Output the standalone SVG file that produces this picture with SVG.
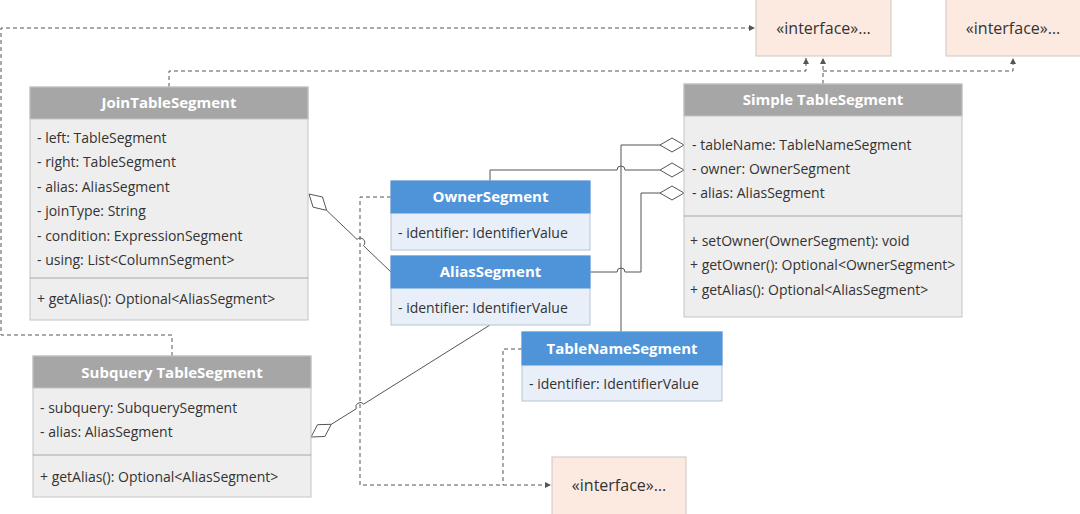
<svg xmlns="http://www.w3.org/2000/svg" width="1080" height="514" viewBox="0 0 1080 514">
<defs>
<style>
.gh{fill:#a6a6a6;stroke:#c4c4c4;stroke-width:1}
.gb{fill:#eeeeee;stroke:#c4c4c4;stroke-width:1}
.bh{fill:#4f94d9;stroke:#4f94d9;stroke-width:1}
.bb{fill:#e8eff9;stroke:#b8c4d4;stroke-width:1}
.if{fill:#fce9e0;stroke:#cfc6c1;stroke-width:1}
.dv{stroke:#a8a8a8;stroke-width:1}
.t{font-family:"Open Sans","Noto Sans",sans-serif;font-size:14px;fill:#333333}
.h{font-family:"Open Sans","Noto Sans",sans-serif;font-size:15px;font-weight:bold;fill:#ffffff;text-anchor:middle}
.it{font-family:"Open Sans","Noto Sans",sans-serif;font-size:16px;fill:#333333;text-anchor:middle}
.sl{fill:none;stroke:#555555;stroke-width:1}
.dl{fill:none;stroke:#555555;stroke-width:1;stroke-dasharray:4 3}
.dm{fill:#ffffff;stroke:#555555;stroke-width:1}
</style>
<marker id="ar" markerUnits="userSpaceOnUse" markerWidth="7" markerHeight="7" refX="6" refY="3" orient="auto">
<path d="M0,0 L6,3 L0,6 z" fill="#555555"/>
</marker>
</defs>

<g id="connectors">
<path class="dl" d="M172,356 V335 H1 V28 H755" marker-end="url(#ar)"/>
<path class="dl" d="M169,87 V71 H806 V58" marker-end="url(#ar)"/>
<path class="dl" d="M823,84 V58" marker-end="url(#ar)"/>
<path class="dl" d="M823,71 H1013 V58" marker-end="url(#ar)"/>
<path class="dl" d="M391,197 H360 V485 H551" marker-end="url(#ar)"/>
<path class="dl" d="M522,349 H503 V485"/>
<path class="sl" d="M621,333 V145 H660"/>
<path class="sl" d="M490,181 V170 H617 A4,4 0 0 1 625,170 H660"/>
<path class="sl" d="M590,272 H617 A4,4 0 0 1 625,272 H641 V193 H660"/>
<path class="sl" d="M326.6,210.3 L357,239.4 A4.5,4.5 0 0 1 363.5,245.7 L391,272"/>
<path class="sl" d="M331.3,424.3 L356.3,408.7 A4.4,4.4 0 0 1 363.7,404.1 L490,325"/>
<path class="dm" d="M684,145 L672,138 L660,145 L672,152 z"/>
<path class="dm" d="M684,170 L672,163 L660,170 L672,177 z"/>
<path class="dm" d="M684,193 L672,186 L660,193 L672,200 z"/>
<path class="dm" d="M309,194 L322.5,197 L326.6,210.3 L313.1,207.2 z"/>
<path class="dm" d="M311,437 L317.5,424.7 L331.3,424.3 L324.9,436.5 z"/>
</g>

<g id="JoinTableSegment">
<rect class="gb" x="30" y="87" width="278" height="233"/>
<rect class="gh" x="30" y="87" width="278" height="32"/>
<text class="h" x="169" y="108">JoinTableSegment</text>
<text class="t" x="37" y="143">- left: TableSegment</text>
<text class="t" x="37" y="167">- right: TableSegment</text>
<text class="t" x="37" y="192">- alias: AliasSegment</text>
<text class="t" x="37" y="216">- joinType: String</text>
<text class="t" x="37" y="241">- condition: ExpressionSegment</text>
<text class="t" x="37" y="265">- using: List&lt;ColumnSegment&gt;</text>
<line class="dv" x1="30" y1="278" x2="308" y2="278"/>
<text class="t" x="37" y="304">+ getAlias(): Optional&lt;AliasSegment&gt;</text>
</g>

<g id="SubqueryTableSegment">
<rect class="gb" x="33" y="356" width="278" height="141"/>
<rect class="gh" x="33" y="356" width="278" height="32"/>
<text class="h" x="172" y="378">Subquery TableSegment</text>
<text class="t" x="40" y="413">- subquery: SubquerySegment</text>
<text class="t" x="40" y="437">- alias: AliasSegment</text>
<line class="dv" x1="33" y1="455" x2="311" y2="455"/>
<text class="t" x="40" y="482">+ getAlias(): Optional&lt;AliasSegment&gt;</text>
</g>

<g id="SimpleTableSegment">
<rect class="gb" x="684" y="84" width="278" height="233"/>
<rect class="gh" x="684" y="84" width="278" height="32"/>
<text class="h" x="823" y="105">Simple TableSegment</text>
<text class="t" x="692" y="150">- tableName: TableNameSegment</text>
<text class="t" x="692" y="174">- owner: OwnerSegment</text>
<text class="t" x="692" y="198">- alias: AliasSegment</text>
<line class="dv" x1="684" y1="216" x2="962" y2="216"/>
<text class="t" x="690" y="246">+ setOwner(OwnerSegment): void</text>
<text class="t" x="690" y="270">+ getOwner(): Optional&lt;OwnerSegment&gt;</text>
<text class="t" x="690" y="295">+ getAlias(): Optional&lt;AliasSegment&gt;</text>
</g>

<g id="OwnerSegment">
<rect class="bb" x="391" y="181" width="199" height="69"/>
<rect class="bh" x="391" y="181" width="199" height="32"/>
<text class="h" x="490.5" y="202">OwnerSegment</text>
<text class="t" x="398" y="238">- identifier: IdentifierValue</text>
</g>

<g id="AliasSegment">
<rect class="bb" x="391" y="256" width="199" height="69"/>
<rect class="bh" x="391" y="256" width="199" height="32"/>
<text class="h" x="490.5" y="277">AliasSegment</text>
<text class="t" x="398" y="313">- identifier: IdentifierValue</text>
</g>

<g id="TableNameSegment">
<rect class="bb" x="522" y="332" width="200" height="69"/>
<rect class="bh" x="522" y="332" width="200" height="33"/>
<text class="h" x="622" y="354">TableNameSegment</text>
<text class="t" x="529" y="389">- identifier: IdentifierValue</text>
</g>

<g id="Interface1">
<rect class="if" x="756" y="-1" width="135" height="57"/>
<text class="it" x="823.5" y="34">«interface»…</text>
</g>

<g id="Interface2">
<rect class="if" x="946" y="-1" width="135" height="57"/>
<text class="it" x="1013" y="34">«interface»…</text>
</g>

<g id="Interface3">
<rect class="if" x="552" y="457" width="134" height="58"/>
<text class="it" x="619" y="491">«interface»…</text>
</g>
</svg>
